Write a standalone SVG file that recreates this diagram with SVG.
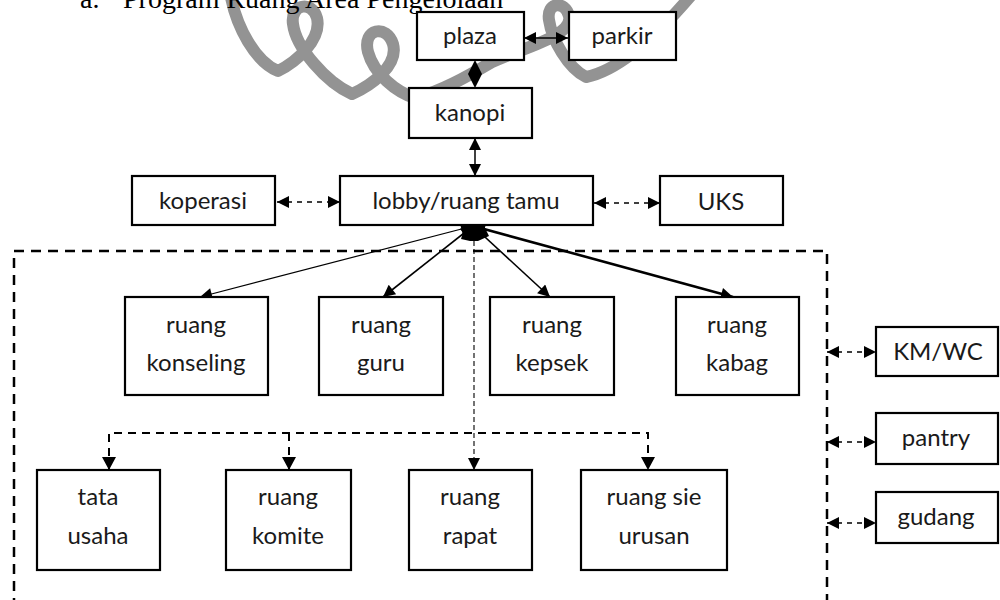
<svg xmlns="http://www.w3.org/2000/svg" width="1000" height="600" viewBox="0 0 1000 600">
  <defs>
    <style>
      .box { fill: #fff; stroke: #000; stroke-width: 2.2; }
      .lbl { font-family: Lato, "Liberation Sans", sans-serif; font-size: 24px; fill: #1a1a1a; text-anchor: middle; }
      .head { font-family: "Liberation Serif", serif; font-size: 28px; fill: #000; }
      .solid { stroke: #000; fill: none; }
      .dash { stroke: #000; stroke-width: 1.6; stroke-dasharray: 5 5; fill: none; }
      .branch { stroke: #000; stroke-width: 2; stroke-dasharray: 8 6; fill: none; }
      .fine { stroke: #000; stroke-width: 1.1; stroke-dasharray: 5 3; fill: none; }
      .zone { stroke: #000; stroke-width: 2.5; stroke-dasharray: 10 7; fill: none; }
      .mark { fill: none; stroke: #939393; stroke-width: 12; stroke-linecap: round; stroke-linejoin: round; }
    </style>
    <marker id="ah" viewBox="0 0 10 10" refX="10" refY="5" markerUnits="userSpaceOnUse" markerWidth="14" markerHeight="12" orient="auto-start-reverse">
      <path d="M0,0 L10,5 L0,10 z" fill="#000"/>
    </marker>
  </defs>

  <rect width="1000" height="600" fill="#fff"/>

  <!-- grey background emblem stroke -->
  <path class="mark" d="M230,-8 C236,28 256,62 278,71 C296,62 322,40 317,18 C312,0 290,4 293,24 C296,48 326,82 352,94 C370,86 399,66 393,44 C387,24 362,28 368,52 C374,74 396,92 415,98 C440,92 468,76 492,62 C522,48 574,36 569,16 C565,0 546,2 549,20 C552,40 568,68 586,77 C622,70 662,30 694,-8"/>

  <!-- heading -->
  <text class="head" x="80" y="8">a.</text>
  <text class="head" x="123" y="8">Program Ruang Area Pengelolaan</text>

  <!-- outer service zone -->
  <rect class="zone" x="14" y="251" width="813" height="360"/>

  <!-- connectors -->
  <g id="connectors">
    <line class="solid" stroke-width="1.5" x1="524" y1="38" x2="568" y2="38" marker-start="url(#ah)" marker-end="url(#ah)"/>
    <polygon points="475,60 482,74 475,88 468,74" fill="#000"/>
    <line class="solid" stroke-width="1.5" x1="475" y1="138" x2="475" y2="176" marker-start="url(#ah)" marker-end="url(#ah)"/>
    <line class="dash" x1="277" y1="202" x2="340" y2="202" marker-start="url(#ah)" marker-end="url(#ah)"/>
    <line class="dash" x1="594" y1="203" x2="660" y2="203" marker-start="url(#ah)" marker-end="url(#ah)"/>

    <line class="solid" stroke-width="1.2" x1="473" y1="226" x2="200" y2="297" marker-start="url(#ah)" marker-end="url(#ah)"/>
    <line class="solid" stroke-width="1.6" x1="473" y1="226" x2="383" y2="297" marker-start="url(#ah)" marker-end="url(#ah)"/>
    <line class="solid" stroke-width="1.6" x1="473" y1="226" x2="550" y2="297" marker-start="url(#ah)" marker-end="url(#ah)"/>
    <line class="solid" stroke-width="2.6" x1="473" y1="226" x2="733" y2="297" marker-start="url(#ah)" marker-end="url(#ah)"/>
    <polygon points="461,239 465,226 484,226 489,236 478,241 470,241" fill="#000"/>
    <line class="fine" x1="474" y1="241" x2="474" y2="470" marker-end="url(#ah)"/>

    <polyline class="branch" points="109,470 109,433 648,433 648,470"/>
    <line class="branch" x1="289" y1="433" x2="289" y2="470"/>
    <path d="M102,457 L116,457 L109,470 z M282,457 L296,457 L289,470 z M641,457 L655,457 L648,470 z" fill="#000"/>

    <line class="dash" x1="827" y1="352" x2="876" y2="352" marker-start="url(#ah)" marker-end="url(#ah)"/>
    <line class="dash" x1="827" y1="442" x2="876" y2="442" marker-start="url(#ah)" marker-end="url(#ah)"/>
    <line class="dash" x1="827" y1="523" x2="876" y2="523" marker-start="url(#ah)" marker-end="url(#ah)"/>
  </g>

  <!-- nodes -->
  <g id="plaza"><rect class="box" x="417" y="12" width="107" height="48"/><text class="lbl" x="470" y="44">plaza</text></g>
  <g id="parkir"><rect class="box" x="569" y="12" width="107" height="48"/><text class="lbl" x="622" y="44">parkir</text></g>
  <g id="kanopi"><rect class="box" x="409" y="88" width="123" height="50"/><text class="lbl" x="470" y="121">kanopi</text></g>
  <g id="koperasi"><rect class="box" x="132" y="176" width="143" height="49"/><text class="lbl" x="203" y="209">koperasi</text></g>
  <g id="lobby"><rect class="box" x="340" y="176" width="253" height="49"/><text class="lbl" x="466" y="209">lobby/ruang tamu</text></g>
  <g id="uks"><rect class="box" x="660" y="176" width="123" height="49"/><text class="lbl" x="721" y="210">UKS</text></g>

  <g id="konseling"><rect class="box" x="125" y="297" width="143" height="98"/><text class="lbl" x="196" y="333">ruang</text><text class="lbl" x="196" y="371">konseling</text></g>
  <g id="guru"><rect class="box" x="319" y="297" width="124" height="98"/><text class="lbl" x="381" y="333">ruang</text><text class="lbl" x="381" y="371">guru</text></g>
  <g id="kepsek"><rect class="box" x="490" y="297" width="124" height="98"/><text class="lbl" x="552" y="333">ruang</text><text class="lbl" x="552" y="371">kepsek</text></g>
  <g id="kabag"><rect class="box" x="676" y="297" width="123" height="98"/><text class="lbl" x="737" y="333">ruang</text><text class="lbl" x="737" y="371">kabag</text></g>

  <g id="kmwc"><rect class="box" x="876" y="327" width="122" height="49"/><text class="lbl" x="938" y="360">KM/WC</text></g>
  <g id="pantry"><rect class="box" x="876" y="413" width="122" height="51"/><text class="lbl" x="936" y="446">pantry</text></g>
  <g id="gudang"><rect class="box" x="876" y="492" width="122" height="51"/><text class="lbl" x="936" y="525">gudang</text></g>

  <g id="tata-usaha"><rect class="box" x="37" y="470" width="123" height="100"/><text class="lbl" x="98" y="505">tata</text><text class="lbl" x="98" y="544">usaha</text></g>
  <g id="komite"><rect class="box" x="226" y="470" width="125" height="100"/><text class="lbl" x="288" y="505">ruang</text><text class="lbl" x="288" y="544">komite</text></g>
  <g id="rapat"><rect class="box" x="409" y="470" width="123" height="100"/><text class="lbl" x="470" y="505">ruang</text><text class="lbl" x="470" y="544">rapat</text></g>
  <g id="sie-urusan"><rect class="box" x="581" y="470" width="146" height="100"/><text class="lbl" x="654" y="505">ruang sie</text><text class="lbl" x="654" y="544">urusan</text></g>
</svg>
